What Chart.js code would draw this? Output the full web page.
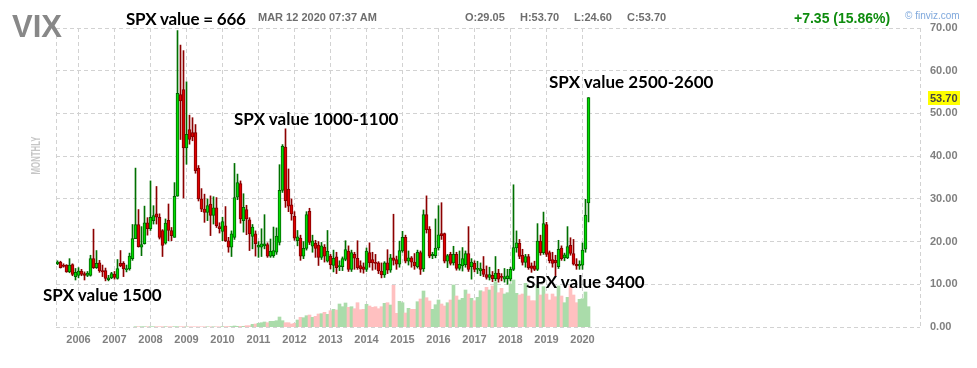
<!DOCTYPE html>
<html>
<head>
<meta charset="utf-8">
<script src="https://cdn.jsdelivr.net/npm/chart.js@4.4.0/dist/chart.umd.min.js"></script>
<style>
  body { margin: 0; background: #fff; }
  #wrap { position: relative; width: 977px; height: 368px; overflow: hidden; }
  canvas { position: absolute; left: 0; top: 0; }
  .t { position: absolute; white-space: nowrap; font-family: "Liberation Sans", Arial, sans-serif; font-weight: bold; font-size: 11px; line-height: 11px; color: #6e6e6e; }
  .note { position: absolute; white-space: nowrap; font-family: Lato, sans-serif; font-weight: bold; font-size: 17px; line-height: 17px; color: #000; }
</style>
</head>
<body>
<div id="wrap">
  <canvas id="myChart" width="977" height="368"></canvas>

  <div class="t" style="left:12px;top:11px;font-size:31px;line-height:31px;color:#888;">VIX</div>
  <div class="t" style="left:258px;top:12px;">MAR 12 2020 07:37 AM</div>
  <div class="t" style="left:465px;top:12px;">O:29.05</div>
  <div class="t" style="left:520px;top:12px;">H:53.70</div>
  <div class="t" style="left:574px;top:12px;">L:24.60</div>
  <div class="t" style="left:627px;top:12px;">C:53.70</div>
  <div class="t" style="left:794px;top:11px;font-size:14px;line-height:14px;color:#0e8c0e;">+7.35 (15.86%)</div>
  <div class="t" style="left:905px;top:11px;font-size:10px;line-height:10px;font-weight:normal;color:#7fa8dc;">&copy; finviz.com</div>
  <div class="t" style="left:0px;top:149px;width:70px;text-align:center;font-size:13px;line-height:13px;color:#c6c6c6;transform:rotate(-90deg) scaleX(0.6);">MONTHLY</div>

  <div class="note" style="left:126px;top:10px;letter-spacing:-0.2px;">SPX value = 666</div>
  <div class="note" style="left:234px;top:110px;">SPX value 1000-1100</div>
  <div class="note" style="left:549px;top:73px;">SPX value 2500-2600</div>
  <div class="note" style="left:43px;top:286px;">SPX value 1500</div>
  <div class="note" style="left:526px;top:273px;">SPX value 3400</div>
</div>

<script>
// monthly bars, first bar = June 2005
const firstYear = 2005;
const firstMonth = 6;

const open = [
  14.8, 15.2, 14.5, 14.5, 12.9, 14.6, 11.8,
  12.1, 13.1, 12.5, 12.1, 12.1, 16.0, 13.9, 15.0, 13.2, 13.2, 11.1, 11.5,
  12.4, 11.4, 14.9, 14.9, 13.4, 13.6, 16.0, 20.7, 24.0, 18.7, 19.5, 24.4,
  23.0, 24.9, 26.5, 25.7, 22.6, 19.6, 25.0, 22.6, 21.0, 30.6, 54.4, 55.6,
  41.9, 46.2, 45.5, 45.5, 37.2, 30.0, 27.6, 26.8, 28.8, 26.1, 27.9, 23.5,
  22.4, 23.7, 20.2, 18.7, 21.0, 30.4, 33.6, 24.9, 27.5, 25.1, 21.2, 21.8,
  18.7, 18.7, 19.0, 19.3, 16.6, 16.7, 17.5, 19.8, 32.0, 42.1, 32.3, 28.6,
  25.9, 20.2, 20.8, 16.6, 18.4, 27.1, 18.9, 19.6, 19.2, 16.3, 18.7, 15.4,
  16.6, 14.4, 16.4, 14.1, 14.1, 15.8, 17.8, 13.5, 17.0, 16.1, 14.4, 14.1,
  13.5, 17.4, 15.8, 15.0, 15.0, 13.1, 12.2, 15.0, 13.3, 16.2, 15.8, 14.7,
  17.8, 21.0, 15.4, 16.2, 15.2, 14.1, 17.4, 13.6, 26.3, 22.9, 16.7, 16.7,
  18.5, 21.9, 21.9, 15.4, 17.0, 15.0, 17.0, 13.7, 14.3, 14.6, 17.2, 14.1,
  14.9, 13.5, 13.1, 13.5, 12.3, 11.6, 12.1, 11.3, 12.6, 11.8, 11.2, 11.3,
  11.2, 13.5, 18.5, 19.6, 16.8, 15.1, 16.5, 14.3, 14.3, 13.5, 20.1, 17.4,
  24.0, 17.4, 15.8, 15.6, 14.1, 18.5, 16.2, 16.2, 19.1, 17.2, 14.7, 14.3,
  14.5, 18.2, 29.05
];

const high = [
  15.5, 15.4, 14.8, 14.6, 16.0, 14.8, 13.7,
  13.9, 13.5, 12.9, 13.0, 16.8, 22.9, 17.9, 15.6, 14.5, 13.8, 12.1, 12.8,
  13.0, 15.8, 17.9, 15.3, 14.5, 17.3, 24.0, 37.2, 27.5, 23.5, 28.3, 25.6,
  34.2, 28.4, 32.9, 26.5, 22.8, 25.3, 28.8, 23.3, 33.8, 69.4, 66.0, 64.7,
  57.4, 49.6, 49.0, 47.4, 37.8, 32.4, 31.1, 30.0, 30.7, 30.5, 30.3, 24.4,
  25.7, 28.2, 21.0, 22.5, 38.3, 35.8, 34.2, 31.2, 28.5, 25.6, 24.0, 22.5,
  20.0, 23.0, 26.3, 19.7, 20.6, 23.4, 23.2, 38.0, 42.7, 46.4, 37.0, 30.0,
  27.0, 22.6, 21.5, 20.0, 27.0, 27.8, 21.5, 20.3, 20.0, 19.8, 19.3, 22.6,
  17.0, 18.0, 17.5, 15.5, 16.4, 20.2, 19.0, 18.0, 17.5, 20.2, 15.5, 15.0,
  18.5, 19.7, 17.5, 17.0, 15.3, 15.0, 15.3, 18.1, 17.0, 26.4, 16.6, 20.1,
  22.4, 21.5, 17.8, 16.5, 17.2, 18.0, 17.8, 27.4, 30.7, 23.5, 17.5, 25.3,
  28.4, 29.1, 22.0, 17.0, 17.5, 18.9, 17.5, 17.8, 18.6, 17.8, 23.5, 16.0,
  15.5, 15.4, 15.0, 16.5, 14.3, 14.0, 13.0, 16.5, 13.5, 12.5, 13.7, 13.5,
  14.0, 33.3, 22.5, 20.5, 18.2, 17.0, 17.0, 15.0, 15.4, 24.2, 21.5, 26.9,
  24.5, 17.8, 17.5, 16.8, 20.3, 19.0, 17.3, 23.5, 20.9, 20.5, 16.0, 15.5,
  19.7, 29.9, 53.70
];

const low = [
  14.6, 13.8, 14.0, 12.8, 12.7, 12.0, 11.0,
  11.5, 12.0, 11.0, 11.8, 11.9, 13.7, 13.7, 12.8, 11.8, 10.8, 10.8, 11.3,
  11.2, 11.2, 14.1, 11.8, 12.9, 13.3, 15.6, 20.7, 18.7, 16.7, 19.4, 21.5,
  22.6, 24.1, 24.1, 20.6, 16.5, 19.4, 20.2, 20.2, 21.0, 30.6, 43.9, 30.2,
  38.1, 42.8, 43.6, 36.0, 29.5, 27.0, 24.5, 24.9, 21.4, 24.1, 23.3, 22.0,
  20.2, 20.0, 17.5, 16.5, 20.5, 29.8, 24.3, 22.2, 21.6, 17.9, 18.3, 16.6,
  16.3, 16.5, 18.3, 16.3, 16.3, 16.3, 17.0, 19.2, 31.5, 28.0, 27.0, 25.0,
  20.3, 19.0, 15.6, 16.0, 18.0, 19.3, 17.5, 16.3, 14.4, 15.8, 15.2, 15.2,
  13.6, 12.9, 12.5, 13.2, 13.2, 15.5, 13.0, 13.0, 13.5, 13.5, 12.8, 12.6,
  13.0, 14.0, 13.3, 13.5, 12.5, 11.5, 11.6, 12.5, 12.8, 14.5, 13.5, 14.0,
  17.5, 15.0, 14.5, 14.0, 13.5, 13.8, 12.3, 13.0, 22.0, 16.2, 16.0, 16.2,
  18.0, 20.5, 15.0, 13.9, 14.5, 14.5, 13.3, 13.3, 13.1, 14.0, 13.0, 11.2,
  12.9, 12.5, 12.0, 11.8, 11.2, 11.0, 10.6, 10.8, 10.5, 10.8, 10.5, 10.0,
  10.8, 13.2, 17.5, 16.0, 14.5, 14.0, 13.5, 12.8, 13.2, 13.2, 16.8, 17.0,
  16.5, 15.0, 14.0, 12.0, 13.7, 15.6, 15.5, 16.0, 16.8, 14.5, 13.5, 13.5,
  13.5, 17.5, 24.60
];

const close = [
  15.2, 13.9, 14.2, 12.9, 14.5, 12.3, 12.8,
  13.1, 12.3, 12.1, 12.6, 16.0, 13.9, 14.9, 13.1, 12.9, 11.4, 11.5, 12.5,
  11.6, 13.7, 14.3, 13.6, 13.7, 16.6, 20.7, 24.0, 18.8, 19.3, 24.4, 23.0,
  25.7, 26.1, 25.7, 21.0, 19.1, 24.3, 22.6, 21.4, 30.6, 54.7, 52.9, 41.9,
  45.1, 43.9, 44.5, 36.6, 30.0, 27.6, 26.8, 28.4, 26.1, 27.9, 23.7, 23.0,
  24.7, 20.2, 18.7, 21.8, 30.3, 33.8, 25.3, 28.0, 25.3, 21.8, 23.4, 19.5,
  19.2, 19.5, 19.5, 16.6, 17.7, 17.9, 21.3, 32.0, 42.3, 29.6, 28.3, 26.5,
  20.8, 21.1, 16.6, 18.4, 26.3, 19.8, 20.2, 18.4, 16.3, 19.0, 16.6, 17.7,
  14.6, 16.1, 13.9, 14.4, 16.0, 18.1, 13.5, 17.4, 16.1, 13.9, 13.6, 13.5,
  17.8, 15.0, 15.0, 14.9, 13.1, 12.2, 15.0, 13.3, 16.2, 15.6, 14.7, 17.9,
  21.0, 15.4, 16.2, 15.2, 14.3, 17.5, 13.5, 26.3, 22.8, 16.6, 17.0, 18.5,
  21.6, 21.4, 15.4, 16.7, 14.9, 17.0, 13.7, 14.7, 16.0, 17.2, 13.5, 15.2,
  13.5, 13.7, 13.7, 12.3, 11.6, 12.3, 11.3, 12.6, 11.2, 11.6, 11.8, 12.0,
  13.5, 18.6, 19.7, 16.5, 15.1, 16.5, 13.9, 13.7, 13.5, 20.1, 17.4, 24.2,
  17.0, 15.5, 14.9, 15.0, 18.2, 16.0, 16.9, 18.8, 17.2, 14.7, 14.3, 14.7,
  18.0, 26.2, 53.70
];

// volume, thousands of contracts
const volume = [
  0, 0, 0, 0, 0, 0, 0,
  0, 0, 0, 0, 0, 0, 0, 0, 0, 0, 0, 0,
  0, 0, 0, 0, 0, 0, 0, 30, 30, 30, 30, 30,
  30, 30, 30, 30, 30, 30, 30, 30, 30, 30, 30, 30,
  20, 20, 20, 20, 20, 20, 20, 20, 20, 20, 20, 20,
  40, 40, 50, 50, 100, 70, 70, 70, 130, 130, 270, 300,
  370, 430, 500, 430, 570, 570, 630, 1000, 630, 430, 430, 300,
  370, 700, 970, 930, 1130, 1200, 970, 1070, 1300, 1330, 1470, 1270,
  1630, 1770, 1700, 2300, 2030, 2400, 1970, 2030, 1830, 2430, 1730, 1770,
  2270, 2100, 1970, 2030, 1830, 2030, 2370, 2430, 2200, 4170, 1370, 2570,
  2430, 1400, 1870, 1770, 1770, 2530, 2800, 3600, 2930, 2600, 1770, 2230,
  2700, 2300, 2100, 2430, 2700, 4200, 3100, 2700, 2870, 3700, 3300, 2870,
  2630, 2970, 3630, 3530, 3970, 3700, 4100, 4500, 3430, 3870, 3300, 3430,
  4300, 4700, 3370, 3200, 3300, 4370, 3100, 2630, 2630, 4200, 3200, 4030,
  3300, 2700, 3300, 3030, 4100, 3100, 2430, 2970, 4100, 3200, 2430, 2770,
  2830, 3500, 2030
];

const yearLabels = ['2006', '2007', '2008', '2009', '2010', '2011', '2012', '2013',
  '2014', '2015', '2016', '2017', '2018', '2019', '2020'];

// index of each January in the series
const firstJan = (13 - firstMonth) % 12;
const yearTicks = yearLabels.map((y, k) => firstJan + 12 * (parseInt(y) - firstYear - 1));

const xMin = -0.5;
const xMax = 287.5;

const up = close.map((c, i) => c >= open[i]);

const lastMark = {
  id: 'lastMark',
  afterDraw(chart) {
    const {ctx, chartArea, scales} = chart;
    const v = close[close.length - 1];
    const y = Math.round(scales.y.getPixelForValue(v));
    ctx.save();
    ctx.fillStyle = '#ffff00';
    ctx.fillRect(chartArea.right + 8, y - 7, 32, 14);
    ctx.fillStyle = '#444';
    ctx.font = 'bold 11px "Liberation Sans", Arial, sans-serif';
    ctx.textBaseline = 'middle';
    ctx.fillText(v.toFixed(2), chartArea.right + 10, y + 1);
    ctx.restore();
  }
};

Chart.defaults.font.family = '"Liberation Sans", Arial, sans-serif';

const ctx = document.getElementById('myChart').getContext('2d');
const myChart = new Chart(ctx, {
  type: 'bar',
  data: {
    datasets: [{
      label: 'body',
      data: open.map((o, i) => ({x: i, y: [o, close[i]]})),
      yAxisID: 'y',
      barThickness: 3,
      minBarLength: 1,
      borderWidth: 1,
      borderSkipped: false,
      backgroundColor: up.map(u => u ? '#00dd00' : '#e00000'),
      borderColor: up.map(u => u ? '#006400' : '#800000'),
      grouped: false,
      order: 0
    }, {
      label: 'wick',
      data: low.map((l, i) => ({x: i, y: [l, high[i]]})),
      yAxisID: 'y',
      barThickness: 1,
      borderWidth: 0,
      backgroundColor: up.map(u => u ? '#007000' : '#8c0000'),
      grouped: false,
      order: 1
    }, {
      label: 'volume',
      data: volume.map((v, i) => ({x: i, y: v > 0 ? v : null})),
      yAxisID: 'yv',
      barThickness: 3,
      borderWidth: 0,
      backgroundColor: up.map(u => u ? '#aadcaa' : '#ffc0c0'),
      grouped: false,
      order: 2
    }]
  },
  options: {
    responsive: false,
    animation: false,
    layout: {
      padding: {left: 56, top: 28, right: 0, bottom: 0}
    },
    plugins: {
      legend: {display: false},
      tooltip: {enabled: false}
    },
    scales: {
      x: {
        type: 'linear',
        min: xMin,
        max: xMax,
        offset: false,
        grid: {color: '#d2d2d2', drawTicks: false, offset: false},
        border: {display: false, dash: [4, 3]},
        afterBuildTicks: (scale) => {
          scale.ticks = [xMin, ...yearTicks, xMax].map(v => ({value: v}));
        },
        ticks: {
          autoSkip: false,
          maxRotation: 0,
          padding: 6,
          color: '#808080',
          font: {size: 11, weight: 'bold'},
          callback: (value, index, ticks) =>
            (index === 0 || index === ticks.length - 1) ? '' : yearLabels[index - 1]
        },
        afterFit: (scale) => { scale.height = 41; }
      },
      y: {
        position: 'right',
        min: 0,
        max: 70,
        grid: {color: '#d2d2d2', drawTicks: false},
        border: {display: false, dash: [4, 3]},
        ticks: {
          stepSize: 10,
          padding: 10,
          color: '#808080',
          font: {size: 11, weight: 'bold'},
          callback: (v) => v.toFixed(2)
        },
        afterFit: (scale) => { scale.width = 57; }
      },
      yv: {
        display: false,
        min: 0,
        max: 29900
      }
    }
  },
  plugins: [lastMark]
});
</script>
</body>
</html>
